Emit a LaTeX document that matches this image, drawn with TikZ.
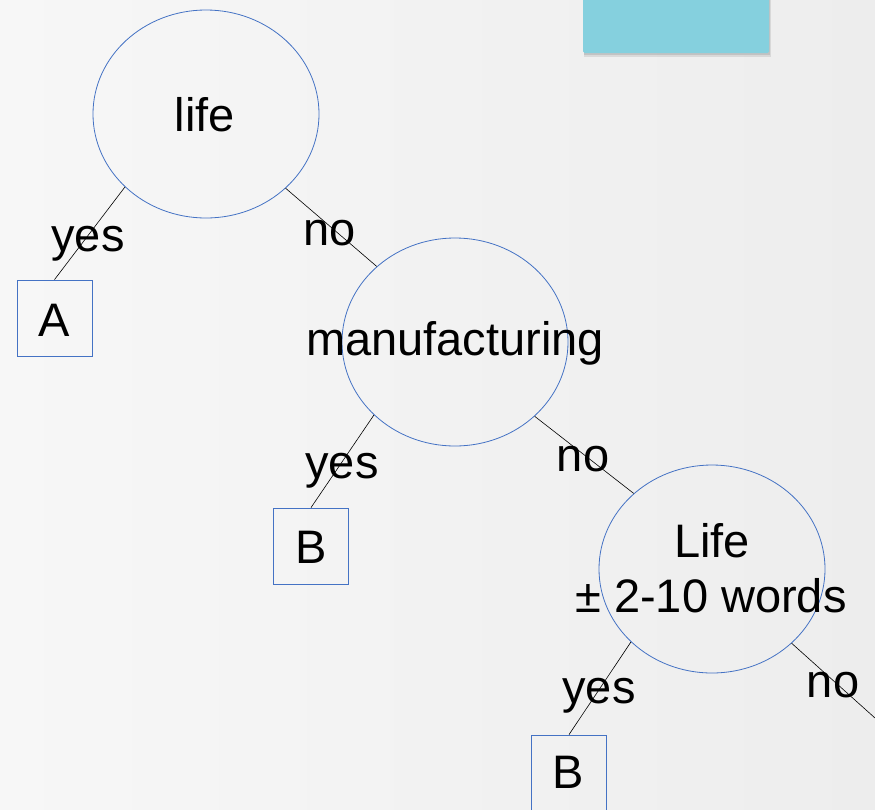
\documentclass[tikz,border=0pt]{standalone}
\usepackage{fontspec}
\setmainfont{Liberation Sans}
\usetikzlibrary{shapes.geometric}
\definecolor{edgeblue}{HTML}{4472C4}
\definecolor{tealcard}{HTML}{85D0DE}
\definecolor{bgleft}{HTML}{F7F7F7}
\definecolor{bgright}{HTML}{EDEDED}
\begin{document}
\begin{tikzpicture}[x=1pt,y=-1pt,
  test/.style={draw=edgeblue,line width=0.8pt,ellipse,inner sep=0pt,
    minimum width=226pt,minimum height=208pt},
  leaf/.style={draw=edgeblue,line width=0.8pt,rectangle,inner sep=0pt,
    minimum width=75pt,minimum height=76pt},
  txt/.style={font=\fontsize{47}{56}\selectfont,inner sep=0pt,anchor=base},
  branch/.style={draw=black,line width=0.6pt}]
\useasboundingbox (0,0) rectangle (875,809);
\clip (0,0) rectangle (875,809);
% background
\shade[left color=bgleft,right color=bgright] (0,0) rectangle (875,809);
% card at the top edge with a soft shadow
\fill[black!40,opacity=0.25] (584,-5) rectangle (771,57);
\fill[black!40,opacity=0.35] (584,-5) rectangle (770,55);
\fill[tealcard,rounded corners=1.5pt] (583,-5) rectangle (769,53);

% decision nodes
\node[test] (c1) at (206,114) {};
\node[test] (c2) at (455,342) {};
\node[test] (c3) at (712,569) {};
% leaves
\node[leaf] (la) at (54.5,318) {};
\node[leaf] (lb1) at (311,546) {};
\node[leaf] (lb2) at (569,773) {};
\coordinate (tail) at (875,718);

% branches
\draw[branch] (c1.222.8) -- (la.north);
\draw[branch] (c1.317.2) -- (c2.136.8);
\draw[branch] (c2.222.8) -- (lb1.north);
\draw[branch] (c2.317.2) -- (c3.136.5);
\draw[branch] (c3.222.4) -- (lb2.north);
\draw[branch] (c3.317.6) -- (tail);

% texts
\node[txt] (t1) at (205,131) {life};
\node[txt] (t2) at (455,355) {manufacturing};
\node[txt] (t3) at (712,557) {Life};
\node[txt] (t4) at (711,612) {± 2-10 words};
\node[txt] (ta) at (54.5,336) {A};
\node[txt] (tb1) at (311,563) {B};
\node[txt] (tb2) at (568,788) {B};
\node[txt] (y1) at (88,251) {yes};
\node[txt] (n1) at (330,245) {no};
\node[txt] (y2) at (342,478) {yes};
\node[txt] (n2) at (583,471) {no};
\node[txt] (y3) at (599,703) {yes};
\node[txt] (n3) at (833,697) {no};
\end{tikzpicture}
\end{document}
